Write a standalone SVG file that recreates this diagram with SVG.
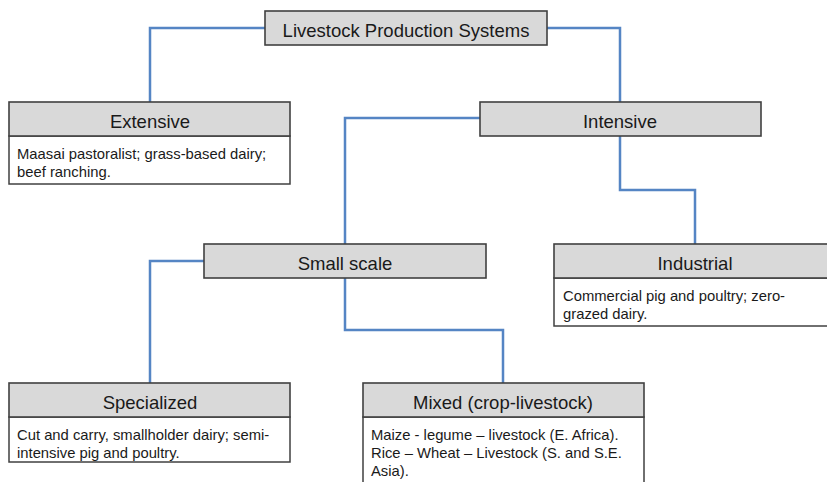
<svg xmlns="http://www.w3.org/2000/svg" width="827" height="482" viewBox="0 0 827 482">
  <style>
    .hd { fill: #d9d9d9; stroke: #404040; stroke-width: 1.6; }
    .bd { fill: #ffffff; stroke: #404040; stroke-width: 1.5; }
    .title { font-family: "Liberation Sans", Arial, sans-serif; font-size: 18.5px; fill: #1a1a1a; text-anchor: middle; }
    .body { font-family: "Liberation Sans", Arial, sans-serif; font-size: 14.8px; fill: #1a1a1a; }
    .link { fill: none; stroke: #5585c4; stroke-width: 2.5; }
  </style>
  <rect width="827" height="482" fill="#ffffff"/>

  <!-- connectors -->
  <g id="connectors">
    <path class="link" d="M265,28 H150 V102"/>
    <path class="link" d="M547,28 H620 V102"/>
    <path class="link" d="M480,118 H345 V244"/>
    <path class="link" d="M620,136 V190 H695 V244"/>
    <path class="link" d="M204,261 H150 V383"/>
    <path class="link" d="M345,278 V330 H503 V383"/>
  </g>

  <g id="root">
    <rect class="hd" x="265" y="11" width="282" height="34"/>
    <text class="title" x="406" y="37">Livestock Production Systems</text>
  </g>

  <g id="extensive">
    <rect class="bd" x="9" y="136" width="281" height="48"/>
    <rect class="hd" x="9" y="102" width="281" height="34"/>
    <text class="title" x="150" y="128">Extensive</text>
    <text class="body" x="17" y="159">Maasai pastoralist; grass-based dairy;</text>
    <text class="body" x="17" y="177">beef ranching.</text>
  </g>

  <g id="intensive">
    <rect class="hd" x="480" y="102" width="281" height="34"/>
    <text class="title" x="620" y="128">Intensive</text>
  </g>

  <g id="small-scale">
    <rect class="hd" x="204" y="244" width="282" height="34"/>
    <text class="title" x="345" y="270">Small scale</text>
  </g>

  <g id="industrial">
    <rect class="bd" x="554" y="278" width="281" height="48"/>
    <rect class="hd" x="554" y="244" width="281" height="34"/>
    <text class="title" x="695" y="270">Industrial</text>
    <text class="body" x="563" y="301">Commercial pig and poultry; zero-</text>
    <text class="body" x="563" y="319">grazed dairy.</text>
  </g>

  <g id="specialized">
    <rect class="bd" x="9" y="417" width="281" height="45"/>
    <rect class="hd" x="9" y="383" width="281" height="34"/>
    <text class="title" x="150" y="409">Specialized</text>
    <text class="body" x="17" y="440">Cut and carry, smallholder dairy; semi-</text>
    <text class="body" x="17" y="458">intensive pig and poultry.</text>
  </g>

  <g id="mixed">
    <rect class="bd" x="363" y="417" width="281" height="80"/>
    <rect class="hd" x="363" y="383" width="281" height="34"/>
    <text class="title" x="503" y="409">Mixed (crop-livestock)</text>
    <text class="body" x="371" y="440">Maize - legume – livestock (E. Africa).</text>
    <text class="body" x="371" y="458">Rice – Wheat – Livestock (S. and S.E.</text>
    <text class="body" x="371" y="476">Asia).</text>
  </g>
</svg>
